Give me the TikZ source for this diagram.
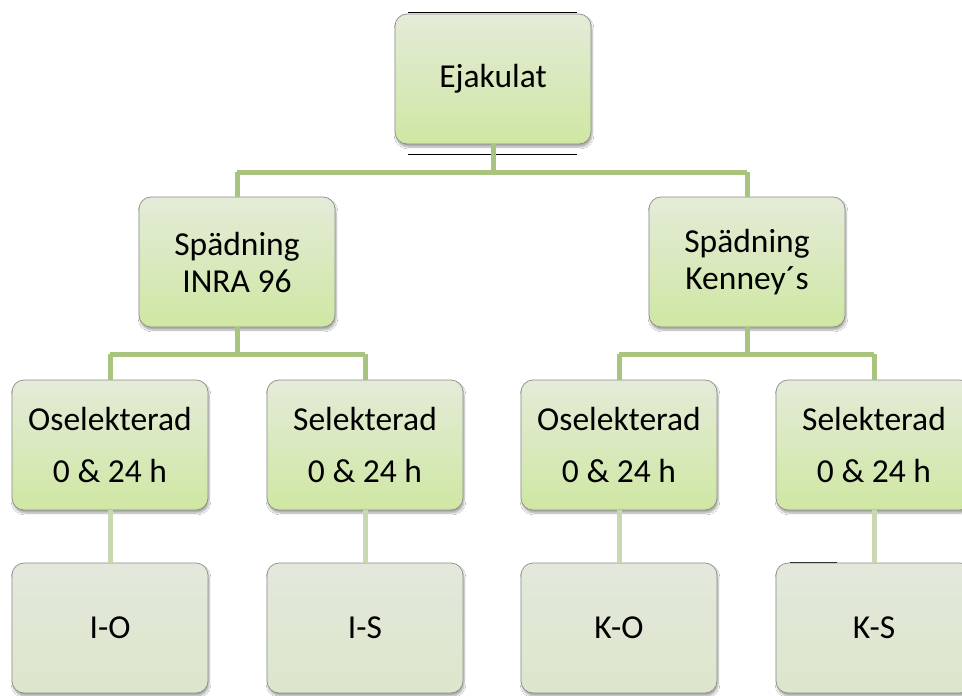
\documentclass[tikz,border=0pt]{standalone}
\usepackage{fontspec}
\setmainfont{Carlito}
\usetikzlibrary{shadows.blur}
\definecolor{gtop}{HTML}{E4EBD8}
\definecolor{gbot}{HTML}{CFE7A3}
\definecolor{ptop}{HTML}{E3E8DC}
\definecolor{pbot}{HTML}{DCE6CB}
\definecolor{conA}{HTML}{A9C47E}
\definecolor{conB}{HTML}{C9D8B1}
\definecolor{edge}{HTML}{8C8C8C}
\tikzset{
  box/.style={rounded corners=12pt, draw=edge, line width=0.7pt,
    minimum width=196pt, minimum height=130pt, inner sep=0pt,
    align=center, font=\fontsize{33.5}{37}\selectfont,
    blur shadow={shadow blur steps=6, shadow xshift=1pt, shadow yshift=-3pt, shadow opacity=35}},
  gbox/.style={box, top color=gtop, bottom color=gbot},
  pbox/.style={box, top color=ptop, bottom color=pbot},
  conn/.style={conA, line width=5pt},
  connb/.style={conB, line width=5pt},
  stray/.style={black, line width=1pt}
}
\begin{document}
\begin{tikzpicture}[x=1pt,y=-1pt]
\useasboundingbox (0,0) rectangle (962,696);
\clip (0,0) rectangle (962,696);
\fill[white] (0,0) rectangle (962,696);
% stray lines
\draw[stray] (408,12.5) -- (577,12.5);
\draw[stray] (408,154) -- (577,154);
\draw[stray] (790,562.5) -- (837,562.5);
% junction points
\coordinate (j0) at (493,172);
\coordinate (jL) at (237,172);
\coordinate (jR) at (747,172);
\coordinate (l1) at (110,354);
\coordinate (l2) at (365,354);
\coordinate (l3) at (619,354);
\coordinate (l4) at (874,354);
\coordinate (m1) at (237,354);
\coordinate (m2) at (747,354);
% nodes
\node[gbox] (ej) at (493,79) {Ejakulat};
\node[gbox] (inra) at (237,262) {Spädning\\INRA 96};
\node[gbox] (ken) at (747,262) {Spädning\\Kenney´s};
\node[gbox] (o1) at (110,445) {Oselekterad\\[15pt]0 \& 24 h};
\node[gbox] (s1) at (365,445) {Selekterad\\[15pt]0 \& 24 h};
\node[gbox] (o2) at (619,445) {Oselekterad\\[15pt]0 \& 24 h};
\node[gbox] (s2) at (874,445) {Selekterad\\[15pt]0 \& 24 h};
\node[pbox] (io) at (110,628) {I-O};
\node[pbox] (is) at (365,628) {I-S};
\node[pbox] (ko) at (619,628) {K-O};
\node[pbox] (ks) at (874,628) {K-S};
% connectors
\draw[conn] (ej.south) -- (j0);
\draw[conn] (jL) -- (jR);
\draw[conn] (jL) -- (inra.north);
\draw[conn] (jR) -- (ken.north);
\draw[conn] (inra.south) -- (m1);
\draw[conn] (l1) -- (l2);
\draw[conn] (l1) -- (o1.north);
\draw[conn] (l2) -- (s1.north);
\draw[conn] (ken.south) -- (m2);
\draw[conn] (l3) -- (l4);
\draw[conn] (l3) -- (o2.north);
\draw[conn] (l4) -- (s2.north);
\draw[connb] (o1.south) -- (io.north);
\draw[connb] (s1.south) -- (is.north);
\draw[connb] (o2.south) -- (ko.north);
\draw[connb] (s2.south) -- (ks.north);
\end{tikzpicture}
\end{document}
